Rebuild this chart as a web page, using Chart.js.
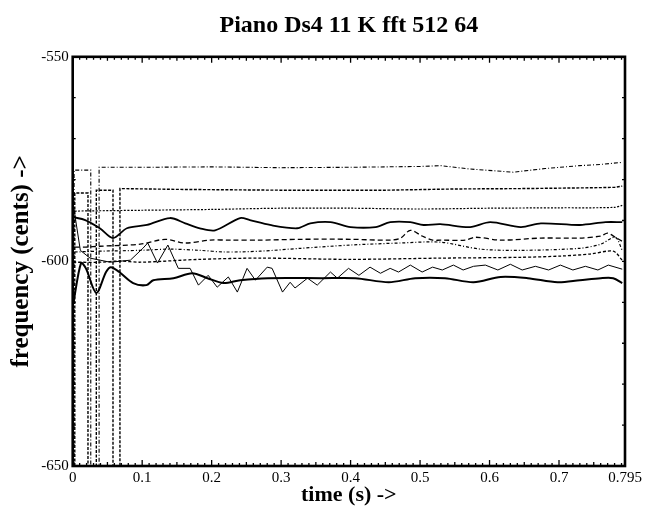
<!DOCTYPE html>
<html>
<head>
<meta charset="utf-8">
<script src="https://cdn.jsdelivr.net/npm/chart.js@4.4.1/dist/chart.umd.min.js"></script>
<style>
  html, body { margin: 0; padding: 0; background: #fff; }
  canvas { display: block; }
</style>
</head>
<body>
<canvas id="c" width="645" height="508"></canvas>
<script>
  'use strict';

  const TITLE = 'Piano Ds4 11 K fft 512 64';
  const X_TITLE = 'time (s) ->';
  const Y_TITLE = 'frequency (cents) ->';

  // labelled ticks
  const X_TICKS = [0, 0.1, 0.2, 0.3, 0.4, 0.5, 0.6, 0.7, 0.795];
  const X_LABELS = ['0', '0.1', '0.2', '0.3', '0.4', '0.5', '0.6', '0.7', '0.795'];
  const Y_TICKS = [-650, -600, -550];
  const Y_LABELS = ['-650', '-600', '-550'];

  // partial tracks, [time s, cents]; the ones that drop to -650 make the vertical dotted lines
  const trackA = [[0.002, -650], [0.002, -577.7], [0.026, -577.7], [0.026, -650], [0.038, -650], [0.038, -577.0],
    [0.1, -577.0], [0.2, -576.9], [0.3, -577.1], [0.4, -577.0], [0.5, -576.8], [0.53, -576.6], [0.57, -577.4],
    [0.634, -578.2], [0.68, -577.3], [0.73, -576.6], [0.76, -576.3], [0.791, -575.8]];
  const trackB = [[0.003, -650], [0.003, -583.3], [0.022, -583.3], [0.022, -650], [0.034, -650], [0.034, -582.6],
    [0.058, -582.6], [0.058, -650], [0.068, -650], [0.068, -582.2], [0.15, -582.4], [0.3, -582.6], [0.45, -582.6],
    [0.55, -582.3], [0.65, -582.2], [0.75, -582.0], [0.78, -581.9], [0.791, -581.6]];
  const trackC = [[0.003, -587.7], [0.1, -587.5], [0.2, -587.3], [0.3, -587.0], [0.4, -587.0], [0.5, -587.2],
    [0.6, -587.0], [0.7, -586.9], [0.78, -586.8], [0.791, -586.3]];
  const trackD = [[0.001, -589.2], [0.018, -589.9], [0.039, -591.9], [0.058, -594.3], [0.078, -591.9], [0.107, -591.1],
    [0.14, -589.4], [0.162, -590.7], [0.183, -591.9], [0.205, -592.4], [0.241, -589.4], [0.255, -589.9], [0.284, -591.1],
    [0.323, -591.9], [0.342, -590.7], [0.371, -590.4], [0.4, -591.6], [0.436, -591.6], [0.457, -590.4], [0.486, -590.4],
    [0.505, -591.1], [0.529, -590.9], [0.572, -591.6], [0.601, -590.4], [0.645, -591.6], [0.674, -590.7], [0.73, -591.1],
    [0.767, -590.4], [0.791, -590.4]];
  const trackE = [[0.003, -596.5], [0.019, -596.5], [0.039, -596.3], [0.097, -595.8], [0.133, -594.6], [0.162, -595.5],
    [0.198, -594.8], [0.227, -594.8], [0.27, -594.8], [0.328, -594.6], [0.4, -594.6], [0.457, -594.8], [0.472, -594.3],
    [0.486, -592.4], [0.503, -593.8], [0.518, -594.8], [0.529, -594.8], [0.565, -594.8], [0.58, -594.1], [0.616, -594.8],
    [0.674, -594.3], [0.73, -594.3], [0.76, -593.8], [0.77, -593.1], [0.781, -594.1], [0.791, -595.1]];
  const trackF = [[0.003, -597.7], [0.039, -597.5], [0.097, -597.3], [0.14, -597.0], [0.183, -597.3], [0.219, -597.7],
    [0.27, -597.5], [0.328, -596.8], [0.4, -596.0], [0.472, -595.5], [0.529, -595.3], [0.587, -597.0], [0.645, -597.3],
    [0.73, -596.8], [0.76, -595.8], [0.781, -594.1], [0.791, -597.3]];
  const trackG = [[0.001, -600.2], [0.039, -600.2], [0.068, -599.9], [0.097, -600.2], [0.183, -599.5], [0.27, -599.2],
    [0.4, -599.5], [0.529, -599.2], [0.645, -599.0], [0.702, -598.7], [0.745, -598.2], [0.778, -597.5], [0.791, -599.7]];
  const trackH = [[0.001, -586.3], [0.011, -597.3], [0.025, -599.2], [0.054, -600.2], [0.083, -599.7], [0.101, -596.8],
    [0.108, -595.5], [0.122, -600.4], [0.137, -596.0], [0.152, -601.7], [0.169, -601.7], [0.181, -605.8], [0.195, -603.4],
    [0.208, -606.3], [0.224, -603.8], [0.237, -607.5], [0.251, -601.7], [0.263, -604.6], [0.28, -601.4], [0.287, -601.7],
    [0.302, -607.5], [0.313, -605.1], [0.32, -606.5], [0.338, -604.1], [0.352, -605.8], [0.371, -602.6], [0.381, -604.1],
    [0.397, -601.7], [0.412, -603.4], [0.428, -601.4], [0.443, -602.9], [0.457, -601.7], [0.469, -602.6], [0.486, -600.9],
    [0.503, -602.6], [0.518, -601.4], [0.532, -602.1], [0.548, -600.9], [0.562, -602.1], [0.577, -601.2], [0.594, -600.9],
    [0.612, -602.1], [0.63, -600.7], [0.647, -602.1], [0.666, -601.2], [0.685, -602.1], [0.702, -600.9], [0.72, -602.1],
    [0.738, -601.2], [0.756, -602.1], [0.771, -600.9], [0.791, -601.9]];
  const trackI = [[0.001, -610.2], [0.012, -600.4], [0.019, -601.7], [0.034, -607.7], [0.048, -602.6], [0.055, -601.4],
    [0.067, -602.6], [0.087, -605.3], [0.106, -605.8], [0.116, -604.6], [0.145, -604.1], [0.172, -602.9], [0.194, -604.1],
    [0.217, -605.3], [0.241, -604.6], [0.281, -604.1], [0.359, -604.1], [0.407, -604.1], [0.455, -605.1], [0.493, -604.1],
    [0.536, -604.1], [0.577, -605.1], [0.616, -603.8], [0.655, -604.1], [0.698, -605.1], [0.73, -604.6], [0.76, -604.1],
    [0.778, -604.1], [0.791, -605.3]];

  const SERIF = "'Liberation Serif', 'DejaVu Serif', serif";

  function track(points, width, dash, tension) {
    return {
      data: points.map((p) => ({ x: p[0], y: p[1] })),
      borderColor: '#000',
      borderWidth: width,
      borderDash: dash,
      pointRadius: 0,
      tension: tension,
      fill: false,
    };
  }

  // box round the plot with small inward ticks on all four sides
  const frame = {
    id: 'frame',
    afterDatasetsDraw(chart) {
      const { ctx, chartArea: a, scales: { x, y } } = chart;
      ctx.save();
      ctx.strokeStyle = '#000';
      ctx.lineWidth = 1.3;
      ctx.beginPath();
      for (let i = 1; i <= 79; i++) {
        const px = x.getPixelForValue(i / 100);
        const len = i % 10 === 0 ? 6 : i % 5 === 0 ? 4 : 3;
        ctx.moveTo(px, a.bottom); ctx.lineTo(px, a.bottom - len);
        ctx.moveTo(px, a.top); ctx.lineTo(px, a.top + len);
      }
      for (let v = -640; v < -550; v += 10) {
        const py = y.getPixelForValue(v);
        ctx.moveTo(a.left, py); ctx.lineTo(a.left + 3, py);
        ctx.moveTo(a.right, py); ctx.lineTo(a.right - 3, py);
      }
      ctx.stroke();
      ctx.lineWidth = 2.6;
      ctx.strokeRect(a.left, a.top, a.right - a.left, a.bottom - a.top);
      ctx.restore();
    },
  };

  new Chart(document.getElementById('c'), {
    type: 'line',
    data: {
      datasets: [
        track(trackA, 1.1, [4, 2, 1, 2], 0),
        track(trackB, 1.4, [3, 1.5], 0),
        track(trackC, 1.2, [2, 1.5], 0.3),
        track(trackD, 1.8, [], 0.3),
        track(trackE, 1.3, [5, 3], 0.3),
        track(trackF, 1.2, [3, 2, 1, 2], 0.3),
        track(trackG, 1.3, [3, 2], 0.3),
        track(trackH, 1, [], 0),
        track(trackI, 2, [], 0.3),
      ],
    },
    options: {
      responsive: false,
      animation: false,
      devicePixelRatio: 1,
      layout: { padding: { left: 0, right: 20, top: 0, bottom: 0 } },
      plugins: {
        legend: { display: false },
        tooltip: { enabled: false },
        title: {
          display: true,
          fullSize: false, // centre over the plot, not the canvas
          text: TITLE,
          color: '#000',
          font: { family: SERIF, size: 24, weight: 'bold', lineHeight: 1.2 },
          padding: { top: 11, bottom: 17 },
        },
      },
      scales: {
        x: {
          type: 'linear',
          min: 0,
          max: 0.795,
          grid: { display: false, drawTicks: false },
          border: { display: false },
          afterBuildTicks: (s) => { s.ticks = X_TICKS.map((v) => ({ value: v })); },
          afterFit: (s) => { s.height = 42; },
          ticks: {
            autoSkip: false,
            maxRotation: 0,
            padding: 3,
            color: '#000',
            font: { family: SERIF, size: 15 },
            callback: (v, i) => X_LABELS[i],
          },
          title: {
            display: true,
            text: X_TITLE,
            color: '#000',
            font: { family: SERIF, size: 22, weight: 'bold', lineHeight: 1.1 },
            padding: { top: 0, bottom: 1 },
          },
        },
        y: {
          min: -650,
          max: -550,
          grid: { display: false, drawTicks: false },
          border: { display: false },
          afterBuildTicks: (s) => { s.ticks = Y_TICKS.map((v) => ({ value: v })); },
          afterFit: (s) => { s.width = 72.7; },
          ticks: {
            autoSkip: false,
            padding: 4,
            color: '#000',
            font: { family: SERIF, size: 15 },
            callback: (v, i) => Y_LABELS[i],
          },
          title: {
            display: true,
            text: Y_TITLE,
            color: '#000',
            font: { family: SERIF, size: 25, weight: 'bold', lineHeight: 1.2 },
            padding: { top: 7, bottom: 0 },
          },
        },
      },
    },
    plugins: [frame],
  });
</script>
</body>
</html>
